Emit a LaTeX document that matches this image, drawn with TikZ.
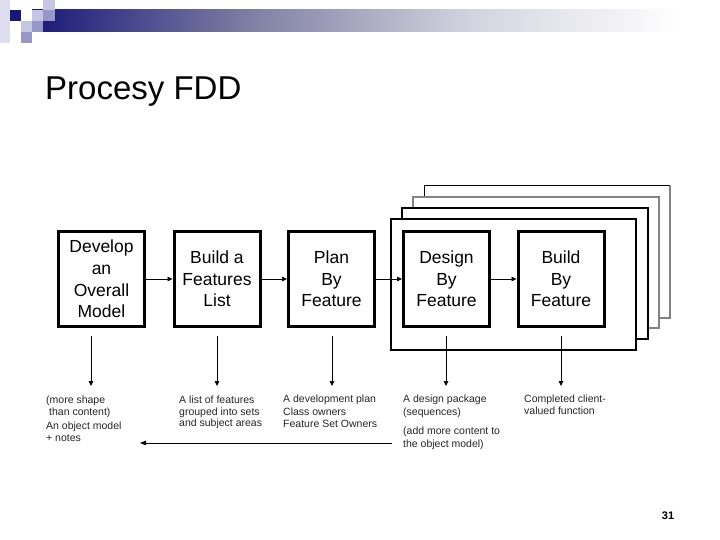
\documentclass[tikz,border=0pt]{standalone}
\usepackage{fontspec}
\setmainfont{Liberation Sans}
\usetikzlibrary{arrows.meta}
\definecolor{navy}{RGB}{24,24,120}
\definecolor{barmid}{RGB}{128,128,165}
\definecolor{barlight}{RGB}{212,212,224}
\definecolor{lavA}{RGB}{222,222,240}
\definecolor{lavB}{RGB}{198,198,228}
\definecolor{lavC}{RGB}{150,150,200}
\definecolor{framegray}{RGB}{130,130,130}
\pgfdeclarehorizontalshading{barshade}{100bp}{color(0bp)=(navy); color(25bp)=(navy); color(41bp)=(barmid); color(57bp)=(barlight); color(72bp)=(white); color(100bp)=(white)}
\tikzset{
  box/.style={draw, line width=3pt, minimum width=86pt, minimum height=95pt, align=center, inner sep=0pt, font=\fontsize{17.5}{21.7}\selectfont},
  lbl/.style={font=\fontsize{10.5}{11.3}\selectfont, align=left, inner sep=0pt, anchor=north west, text=black!85},
  arr/.style={-{Triangle[length=5pt,width=4.5pt]}, line width=0.8pt},
  feedarr/.style={-{Triangle[length=6pt,width=4.5pt]}, line width=0.8pt}
}
\begin{document}
\begin{tikzpicture}[x=1pt,y=-1pt]
\useasboundingbox (0,0) rectangle (720,540);
\fill[white] (0,0) rectangle (720,540);
% header decoration
\shade[shading=barshade] (32,10) rectangle (720,32);
\fill[lavA] (0,0) rectangle (10,43);
\fill[navy] (10,10) rectangle (21,21);
\fill[lavB] (32,10) rectangle (43,21);
\fill[lavB] (43,0) rectangle (55,10);
\fill[lavC] (43,10) rectangle (55,21);
\fill[lavB] (21,21) rectangle (32,32);
\fill[lavC] (32,21) rectangle (43,32);
\fill[lavC] (21,32) rectangle (32,43);
% title
\node[anchor=base west, inner sep=0pt, font=\fontsize{33}{40}\selectfont] (title) at (45,99.5) {Procesy FDD};
% stacked frames (back to front)
\fill[white] (424,186) rectangle (670,318);
\draw[line width=1pt] (424,318) -- (424,186) -- (670,186);
\draw[framegray, line width=2pt] (670,186) -- (670,318) -- (424,318);
\filldraw[fill=white, draw=framegray, line width=2pt] (413,197) rectangle (659,328);
\filldraw[fill=white, draw=black, line width=1.2pt] (402,208) rectangle (648,339);
\filldraw[fill=white, draw=black, line width=1.5pt] (391,219) rectangle (636,350);
% process boxes
\node[box] (b1) at (101.5,279) {Develop\\an\\Overall\\Model};
\node[box] (b2) at (217,279) {Build a\\Features\\List};
\node[box] (b3) at (331.5,279) {Plan\\By\\Feature};
\node[box] (b4) at (446.5,279) {Design\\By\\Feature};
\node[box] (b5) at (561,279) {Build\\By\\Feature};
\draw[arr] (b1) -- (b2);
\draw[arr] (b2) -- (b3);
\draw[arr] (b3) -- (b4);
\draw[arr] (b4) -- (b5);
% outputs
\coordinate (v1s) at (91,336);  \coordinate (v1e) at (91,386);
\coordinate (v2s) at (217,336); \coordinate (v2e) at (217,386);
\coordinate (v3s) at (332,336); \coordinate (v3e) at (332,386);
\coordinate (v4s) at (446,336); \coordinate (v4e) at (446,386);
\coordinate (v5s) at (561,336); \coordinate (v5e) at (561,386);
\draw[arr] (v1s) -- (v1e);
\draw[arr] (v2s) -- (v2e);
\draw[arr] (v3s) -- (v3e);
\draw[arr] (v4s) -- (v4e);
\draw[arr] (v5s) -- (v5e);
\node[lbl] (o1) at (46,396) {(more shape\\\hspace*{3pt}than content)};
\node[lbl] (o1b) at (46,422) {An object model\\+ notes};
\node[lbl] (o2) at (179,396) {A list of features\\grouped into sets\\and subject areas};
\node[lbl, font=\fontsize{10.5}{12.3}\selectfont] (o3) at (283,395) {A development plan\\Class owners\\Feature Set Owners};
\node[lbl, font=\fontsize{10.5}{12.5}\selectfont] (o4) at (403,395) {A design package\\(sequences)};
\node[lbl, font=\fontsize{10.5}{13.5}\selectfont] (o4b) at (403,426.5) {(add more content to\\the object model)};
\node[lbl, font=\fontsize{10.5}{12}\selectfont] (o5) at (524,395) {Completed client-\\valued function};
% feedback
\coordinate (fbs) at (392,443);
\coordinate (fbe) at (140,443);
\draw[feedarr] (fbs) -- (fbe);
% page number
\node[inner sep=0pt, font=\bfseries\fontsize{11}{13}\selectfont] (pg) at (668,516) {31};
\end{tikzpicture}
\end{document}
